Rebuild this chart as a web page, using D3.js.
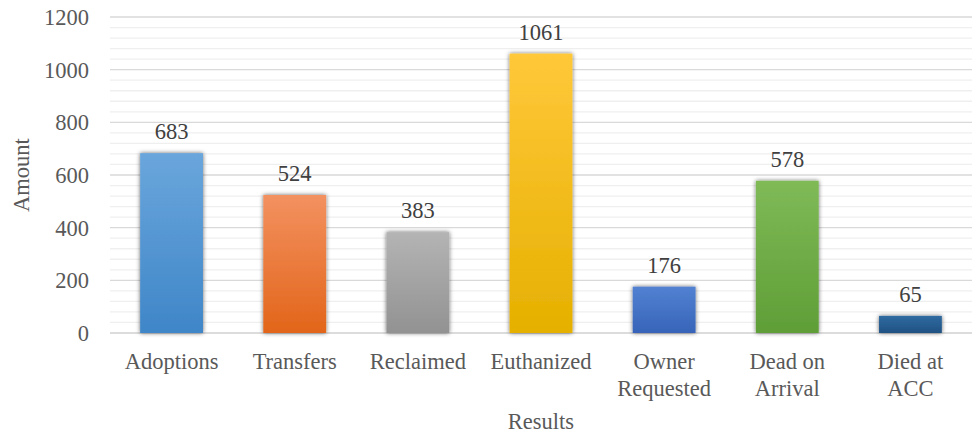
<!DOCTYPE html>
<html>
<head>
<meta charset="utf-8">
<script src="https://cdn.jsdelivr.net/npm/d3@7"></script>
<style>
  body { margin: 0; background: #fff; }
  text { font-family: "Liberation Serif", "Times New Roman", serif; }
</style>
</head>
<body>
<svg id="chart"></svg>
<script>
// data
const categories = ["Adoptions", "Transfers", "Reclaimed", "Euthanized", "Owner Requested", "Dead on Arrival", "Died at ACC"];
const amounts = [683, 524, 383, 1061, 176, 578, 65];
const catLines = [["Adoptions"], ["Transfers"], ["Reclaimed"], ["Euthanized"], ["Owner", "Requested"], ["Dead on", "Arrival"], ["Died at", "ACC"]];
const yTicks = [0, 200, 400, 600, 800, 1000, 1200];
const barColors = [["#6aa6dc", "#3f86c8"], ["#f39160", "#e2651a"], ["#b4b4b4", "#929292"], ["#ffc83a", "#e6b000"],
                   ["#5281d2", "#3764b8"], ["#7fba57", "#5f9e37"], ["#2f6aa0", "#1f5283"]];

const width = 979, height = 434;
const margin = {left: 110, right: 7, top: 17, bottom: 101};
const fs = 22.5;

const svg = d3.select("#chart").attr("width", width).attr("height", height);

const defs = svg.append("defs");
const shadow = defs.append("filter").attr("id", "shadow")
    .attr("x", "-20%").attr("y", "-20%").attr("width", "140%").attr("height", "140%");
shadow.append("feGaussianBlur").attr("in", "SourceAlpha").attr("stdDeviation", 2).attr("result", "b");
shadow.append("feFlood").attr("flood-color", "#000").attr("flood-opacity", 0.6);
shadow.append("feComposite").attr("in2", "b").attr("operator", "in").attr("result", "s");
const merge = shadow.append("feMerge");
merge.append("feMergeNode").attr("in", "s");
merge.append("feMergeNode").attr("in", "SourceGraphic");

barColors.forEach((c, i) => {
    const g = defs.append("linearGradient").attr("id", "grad" + i)
        .attr("x1", 0).attr("y1", 0).attr("x2", 0).attr("y2", 1);
    g.append("stop").attr("offset", "0%").attr("stop-color", c[0]);
    g.append("stop").attr("offset", "100%").attr("stop-color", c[1]);
});

const x = d3.scaleBand()
    .domain(categories)
    .range([margin.left, width - margin.right])
    .paddingInner(0.49).paddingOuter(0.245);

const y = d3.scaleLinear()
    .domain([0, 1200])
    .range([height - margin.bottom, margin.top]);

// minor gridlines
const minor = d3.range(0, 1201, 40).filter(v => v % 200 !== 0);
svg.append("g").selectAll("line").data(minor).join("line")
    .attr("x1", margin.left).attr("x2", width - margin.right)
    .attr("y1", d => y(d)).attr("y2", d => y(d))
    .attr("stroke", "#efefef").attr("stroke-width", 1.3);

// major gridlines
svg.append("g").selectAll("line").data(yTicks).join("line")
    .attr("x1", margin.left).attr("x2", width - margin.right)
    .attr("y1", d => y(d)).attr("y2", d => y(d))
    .attr("stroke", d => d === 0 ? "#d0d0d0" : "#d9d9d9").attr("stroke-width", d => d === 0 ? 1.5 : 1.3);

// y tick labels
svg.append("g").selectAll("text").data(yTicks).join("text")
    .attr("x", 89).attr("y", d => y(d))
    .attr("dy", "0.35em")
    .attr("text-anchor", "end")
    .attr("font-size", fs).attr("fill", "#595959")
    .text(d => d);

// bars
svg.append("g").selectAll("rect").data(amounts).join("rect")
    .attr("x", (d, i) => x(categories[i]))
    .attr("width", x.bandwidth())
    .attr("y", d => y(d))
    .attr("height", d => y(0) - y(d))
    .attr("fill", (d, i) => "url(#grad" + i + ")")
    .attr("filter", "url(#shadow)");

// value labels
svg.append("g").selectAll("text").data(amounts).join("text")
    .attr("x", (d, i) => x(categories[i]) + x.bandwidth() / 2)
    .attr("y", d => y(d) - 14)
    .attr("text-anchor", "middle")
    .attr("font-size", fs).attr("fill", "#404040")
    .text(d => d);

// category labels
const cl = svg.append("g").selectAll("text").data(catLines).join("text")
    .attr("x", (d, i) => x(categories[i]) + x.bandwidth() / 2)
    .attr("y", 369)
    .attr("text-anchor", "middle")
    .attr("font-size", fs).attr("fill", "#595959");
cl.selectAll("tspan").data(d => d).join("tspan")
    .attr("x", function () { return d3.select(this.parentNode).attr("x"); })
    .attr("dy", (d, i) => i === 0 ? 0 : 27)
    .text(d => d);

// axis titles
svg.append("text")
    .attr("transform", "translate(29," + (y(600)) + ") rotate(-90)")
    .attr("text-anchor", "middle")
    .attr("font-size", fs).attr("fill", "#595959")
    .text("Amount");

svg.append("text")
    .attr("x", (margin.left + width - margin.right) / 2)
    .attr("y", 429)
    .attr("text-anchor", "middle")
    .attr("font-size", fs).attr("fill", "#595959")
    .text("Results");
</script>
</body>
</html>
